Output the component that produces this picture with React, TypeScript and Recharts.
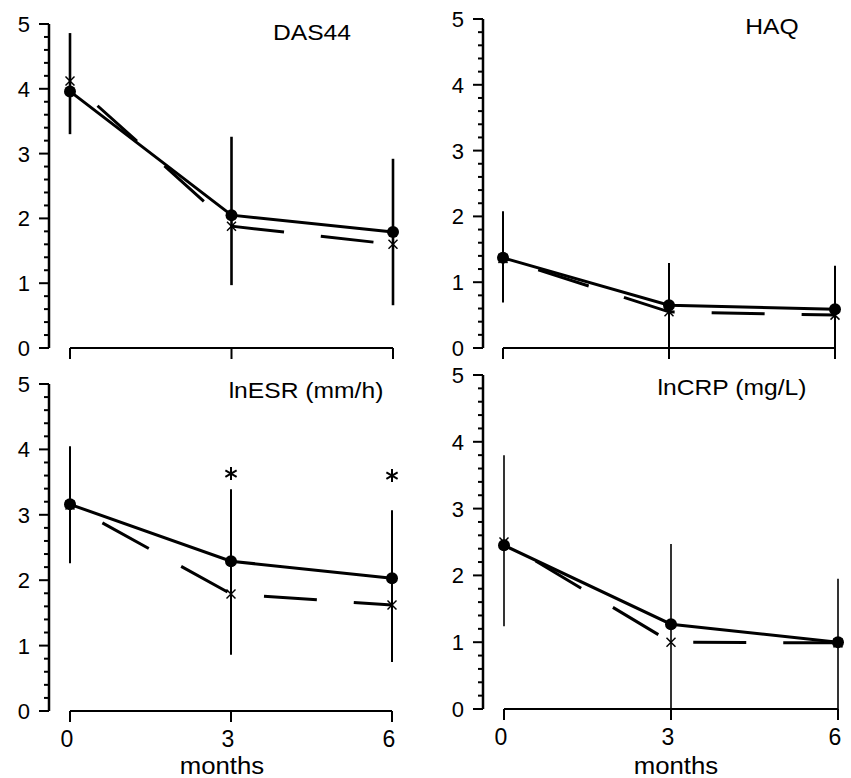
import { ComposedChart, Line, XAxis, YAxis, ErrorBar, ReferenceLine, ReferenceDot } from 'recharts';

const FONT = '"Liberation Sans", Arial, Helvetica, sans-serif';

const MONTHS = [0, 3, 6];
const Y_TICKS = [
    0, 0.2, 0.4, 0.6, 0.8, 1, 1.2, 1.4, 1.6, 1.8, 2, 2.2, 2.4, 2.6, 2.8, 3, 3.2, 3.4, 3.6, 3.8, 4, 4.2, 4.4, 4.6, 4.8, 5,
];

// DAS44
const DAS_CIRCLE = [3.96, 2.05, 1.79];
const DAS_CROSS = [4.12, 1.88, 1.6];
const DAS_LOW = [3.3, 0.97, 0.66];
const DAS_HIGH = [4.86, 3.26, 2.92];

// HAQ
const HAQ_CIRCLE = [1.37, 0.65, 0.59];
const HAQ_CROSS = [1.36, 0.55, 0.5];
const HAQ_LOW = [0.69, 0, 0];
const HAQ_HIGH = [2.08, 1.29, 1.25];

// lnESR
const ESR_CIRCLE = [3.16, 2.29, 2.03];
const ESR_CROSS = [3.15, 1.79, 1.62];
const ESR_LOW = [2.26, 0.86, 0.75];
const ESR_HIGH = [4.05, 3.39, 3.07];
const ESR_SIG_X = [3, 6];
const ESR_SIG_Y = [3.63, 3.6];

// lnCRP
const CRP_CIRCLE = [2.45, 1.27, 1.0];
const CRP_CROSS = [2.5, 1.0, 0.99];
const CRP_LOW = [1.24, 0, 0];
const CRP_HIGH = [3.8, 2.47, 1.95];

const buildRows = (circle: number[], cross: number[], low: number[], high: number[]) =>
    MONTHS.map((m, i) => ({
        month: m,
        circle: circle[i],
        cross: cross[i],
        err: [circle[i] - low[i], high[i] - circle[i]],
    }));

const YTick = (props: any) => {
    const { x, y, payload } = props;
    const v = payload.value;
    const major = Math.abs(v - Math.round(v)) < 1e-6;
    return (
        <g>
            <line x1={x} x2={x - (major ? 10 : 5)} y1={y} y2={y} stroke="#000" strokeWidth={2} />
            {major && (
                <text x={x - 19} y={y} dy={8} textAnchor="end" fontSize={22} fontFamily={FONT} fill="#000">
                    {Math.round(v)}
                </text>
            )}
        </g>
    );
};

const XTickPlain = (props: any) => {
    const { x, y } = props;
    return <line x1={x} x2={x} y1={y} y2={y + 11} stroke="#000" strokeWidth={2} />;
};

const XTickLabeled = (props: any) => {
    const { x, y, payload } = props;
    return (
        <g>
            <line x1={x} x2={x} y1={y} y2={y + 11} stroke="#000" strokeWidth={2} />
            <text x={x - 3} y={y + 36} textAnchor="middle" fontSize={23} fontFamily={FONT} fill="#000">
                {payload.value}
            </text>
        </g>
    );
};

const CircleDot = (p: any) => <circle key={`c${p.index}`} cx={p.cx} cy={p.cy} r={6} fill="#000" />;

const CrossDot = (p: any) => (
    <g key={`x${p.index}`}>
        <line x1={p.cx - 4.5} y1={p.cy - 4.5} x2={p.cx + 4.5} y2={p.cy + 4.5} stroke="#000" strokeWidth={1.5} />
        <line x1={p.cx - 4.5} y1={p.cy + 4.5} x2={p.cx + 4.5} y2={p.cy - 4.5} stroke="#000" strokeWidth={1.5} />
    </g>
);

const Asterisk = (p: any) => {
    const { cx, cy } = p;
    const r = 6.5;
    const dx = r * Math.cos(Math.PI / 6);
    const dy = r * Math.sin(Math.PI / 6);
    return (
        <g stroke="#000" strokeWidth={2}>
            <line x1={cx} x2={cx} y1={cy - r} y2={cy + r} />
            <line x1={cx - dx} x2={cx + dx} y1={cy - dy} y2={cy + dy} />
            <line x1={cx - dx} x2={cx + dx} y1={cy + dy} y2={cy - dy} />
        </g>
    );
};

interface PanelProps {
    data: any[];
    left: number;
    top: number;
    width: number;
    marginTop: number;
    plotH: number;
    axisW: number;
    padL: number;
    padR: number;
    showX: boolean;
    errW: number;
    sigX?: number[];
    sigY?: number[];
}

const Panel = ({ data, left, top, width, marginTop, plotH, axisW, padL, padR, showX, errW, sigX, sigY }: PanelProps) => (
    <div style={{ position: 'absolute', left, top }}>
        <ComposedChart
            width={width}
            height={marginTop + plotH + 60}
            data={data}
            margin={{ top: marginTop, right: 10, left: 0, bottom: 0 }}
        >
            <XAxis
                dataKey="month"
                type="number"
                domain={[0, 6]}
                ticks={MONTHS}
                interval={0}
                padding={{ left: padL, right: padR }}
                axisLine={false}
                tickLine={false}
                tickSize={0}
                tickMargin={0}
                height={60}
                tick={showX ? XTickLabeled : XTickPlain}
            />
            <YAxis
                type="number"
                domain={[0, 5]}
                ticks={Y_TICKS}
                interval={0}
                width={axisW}
                axisLine={{ stroke: '#000', strokeWidth: 2.5 }}
                tickLine={false}
                tickSize={0}
                tickMargin={0}
                tick={YTick}
            />
            <ReferenceLine
                segment={[
                    { x: 0, y: 0 },
                    { x: 6, y: 0 },
                ]}
                stroke="#000"
                strokeWidth={2}
                ifOverflow="visible"
            />
            <Line
                dataKey="cross"
                stroke="#000"
                strokeWidth={3}
                strokeDasharray="53 37"
                strokeDashoffset={53}
                dot={CrossDot}
                activeDot={false}
                isAnimationActive={false}
            />
            <Line dataKey="circle" stroke="#000" strokeWidth={3} dot={CircleDot} activeDot={false} isAnimationActive={false}>
                <ErrorBar dataKey="err" width={0} strokeWidth={errW} stroke="#000" direction="y" isAnimationActive={false} />
            </Line>
            {sigX &&
                sigY &&
                sigX.map((sx, i) => (
                    <ReferenceDot key={i} x={sx} y={sigY[i]} r={6} shape={Asterisk} ifOverflow="visible" />
                ))}
        </ComposedChart>
    </div>
);

const Title = ({ text, x, y, size = 22 }: { text: string; x: number; y: number; size?: number }) => (
    <div
        style={{
            position: 'absolute',
            left: x,
            top: y,
            transform: 'translate(-50%, -50%) scaleX(1.12)',
            fontFamily: FONT,
            fontSize: size,
            lineHeight: 1.15,
            whiteSpace: 'nowrap',
            color: '#000',
        }}
    >
        {text}
    </div>
);

export default function App() {
    return (
        <div style={{ position: 'absolute', left: 0, top: 0, width: 851, height: 778, background: '#fff', overflow: 'hidden' }}>
            <Panel
                data={buildRows(DAS_CIRCLE, DAS_CROSS, DAS_LOW, DAS_HIGH)}
                left={0}
                top={0}
                width={420}
                marginTop={24}
                plotH={324}
                axisW={49}
                padL={21}
                padR={17}
                showX={false}
                errW={2.6}
            />
            <Panel
                data={buildRows(HAQ_CIRCLE, HAQ_CROSS, HAQ_LOW, HAQ_HIGH)}
                left={420}
                top={0}
                width={431}
                marginTop={19}
                plotH={329}
                axisW={63}
                padL={20}
                padR={6}
                showX={false}
                errW={2}
            />
            <Panel
                data={buildRows(ESR_CIRCLE, ESR_CROSS, ESR_LOW, ESR_HIGH)}
                left={0}
                top={360}
                width={420}
                marginTop={24}
                plotH={327}
                axisW={49}
                padL={21}
                padR={18}
                showX={true}
                errW={2}
                sigX={ESR_SIG_X}
                sigY={ESR_SIG_Y}
            />
            <Panel
                data={buildRows(CRP_CIRCLE, CRP_CROSS, CRP_LOW, CRP_HIGH)}
                left={420}
                top={360}
                width={431}
                marginTop={15}
                plotH={334}
                axisW={63}
                padL={21}
                padR={3}
                showX={true}
                errW={1.6}
            />
            <Title text="DAS44" x={312} y={33} />
            <Title text="HAQ" x={772} y={27} />
            <Title text="lnESR (mm/h)" x={306} y={391} />
            <Title text="lnCRP (mg/L)" x={732} y={388} />
            <Title text="months" x={222} y={766} size={23} />
            <Title text="months" x={676} y={766} size={23} />
        </div>
    );
}
